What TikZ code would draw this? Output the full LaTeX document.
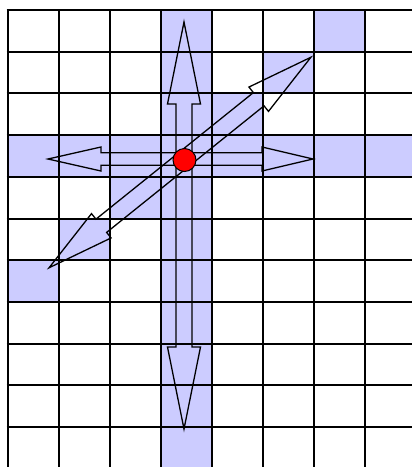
\documentclass[tikz,border=0pt]{standalone}
\begin{document}
\begin{tikzpicture}[x=1pt, y=-1pt,
  cell/.style={fill=blue!20},
  gridline/.style={line width=2pt, black},
  blockarrow/.style={draw=black, line width=1.3pt, line join=miter}]
\useasboundingbox (0,0) rectangle (412,467);
\clip (0,0) rectangle (412,467);
% shaded cells: column, row, diagonal
\foreach \r in {0,...,10} \fill[cell] ({7.5+51.07*3},{10+41.7*\r}) rectangle ++(51.07,41.7);
\foreach \c in {0,...,7} \fill[cell] ({7.5+51.07*\c},{10+41.7*3}) rectangle ++(51.07,41.7);
\foreach \c/\r in {4/2,5/1,6/0,2/4,1/5,0/6} \fill[cell] ({7.5+51.07*\c},{10+41.7*\r}) rectangle ++(51.07,41.7);
% grid
\foreach \i in {0,...,8} \draw[gridline] ({7.5+51.07*\i},9) -- ({7.5+51.07*\i},470);
\foreach \j in {0,...,11} \draw[gridline] (6.5,{10+41.7*\j}) -- (416,{10+41.7*\j});
% vertical double arrow
\draw[blockarrow] (184,22) -- (200.5,104) -- (192,104) -- (192,347) -- (200.5,347) -- (184,429)
  -- (167.5,347) -- (176,347) -- (176,104) -- (167.5,104) -- cycle;
% horizontal double arrow
\draw[blockarrow] (48,159) -- (101,147) -- (101,152.8) -- (262,152.8) -- (262,147) -- (313,159)
  -- (262,171) -- (262,165.2) -- (101,165.2) -- (101,171) -- cycle;
% diagonal double arrow
\begin{scope}[shift={(180,162.5)}, rotate=38.8]
\draw[blockarrow] (168,0) -- (101,15.6) -- (101,8.5) -- (-101,8.5) -- (-101,15.6) -- (-168,0)
  -- (-101,-15.6) -- (-101,-8.5) -- (101,-8.5) -- (101,-15.6) -- cycle;
\end{scope}
\node[circle, fill=red, draw=black, line width=1pt, minimum size=23pt, inner sep=0pt] (dot) at (184.5,160) {};
\end{tikzpicture}
\end{document}
